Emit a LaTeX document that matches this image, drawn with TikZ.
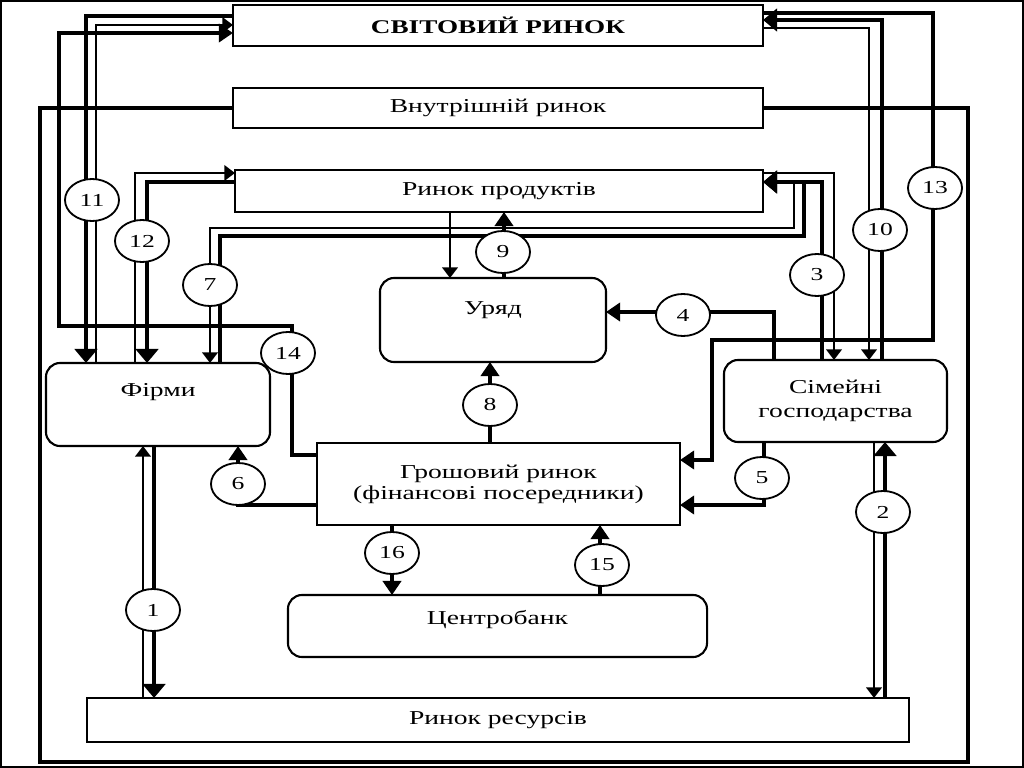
\documentclass[tikz,border=0pt]{standalone}
\usepackage{fontspec}
\setmainfont{Liberation Serif}[FakeStretch=1.4]
\usetikzlibrary{positioning,shapes.geometric,arrows.meta}
\tikzset{
    market/.style={
        rectangle,
        draw=black,
        line width=1.5pt,
        inner sep=0pt,
        outer sep=0pt,
        align=center
    },
    agent/.style={
        rectangle,
        rounded corners=10pt,
        draw=black,
        line width=1.5pt,
        inner sep=0pt,
        outer sep=0pt,
        align=center
    },
    num/.style={
        ellipse,
        draw=black,
        fill=white,
        line width=1.3pt,
        minimum width=1.35cm,
        minimum height=1.05cm,
        inner sep=0pt,
        font=\fontsize{13}{15}\selectfont
    },
    money/.style={line width=3pt, -{Triangle[length=10pt,width=16pt]}},
    goods/.style={line width=1.5pt, -{Triangle[length=7.5pt,width=11pt]}},
    flow/.style={line width=2.2pt, -{Triangle[length=10pt,width=13pt]}},
    frame/.style={line width=2.2pt}
}

\begin{document}
\begin{tikzpicture}[x=0.025cm, y=-0.025cm, font=\fontsize{14}{16}\selectfont]
          \useasboundingbox (0,0) rectangle (1024,768);
          \draw [line width=1.2pt] (1,1) rectangle (1023,767);
          % markets and agents
          \node (world) [market, minimum width=13.25cm, minimum height=1.025cm, font=\fontsize{13.8}{16}\selectfont\bfseries] at (498,25.5) {СВІТОВИЙ РИНОК};
          \node (domestic) [market, minimum width=13.25cm, minimum height=1cm] at (498,108) {Внутрішній ринок};
          \node (products) [market, minimum width=13.2cm, minimum height=1.05cm] at (499,191) {Ринок продуктів};
          \node (govt) [agent, minimum width=5.65cm, minimum height=2.1cm, text height=9pt, text depth=17pt] at (493,320) {Уряд};
          \node (firms) [agent, minimum width=5.6cm, minimum height=2.075cm, text height=9pt, text depth=20pt] at (158,404.5) {Фірми};
          \node (house) [agent, minimum width=5.575cm, minimum height=2.05cm, font=\fontsize{14}{17.5}\selectfont] at (835.5,401) {Сімейні\\господарства};
          \node (money) [market, minimum width=9.075cm, minimum height=2.05cm, font=\fontsize{14}{15}\selectfont] at (498.5,484) {Грошовий ринок\\(фінансові посередники)};
          \node (cbank) [agent, minimum width=10.475cm, minimum height=1.55cm, text height=9pt, text depth=11pt] at (497.5,626) {Центробанк};
          \node (resources) [market, minimum width=20.55cm, minimum height=1.1cm] at (498,720) {Ринок ресурсів};
          % domestic market border
          \draw [frame] (domestic.west) -| (40,762) -| (968,108) -- (domestic.east);
          % 11, 14
          \draw [money] (world.west |- 0,16) -| (firms.north -| 86,0);
          \draw [goods] (firms.north -| 96,0) |- (world.west |- 0,25);
          \draw [flow] (money.west |- 0,455) -| (292,326) -| (59,33) -- (world.west |- 0,33);
          % 12, 7
          \draw [goods] (firms.north -| 135,0) |- (products.west |- 0,173);
          \draw [money] (products.west |- 0,182) -| (firms.north -| 147,0);
          \draw [money] (firms.north -| 220,0) |- (804,236) -- (804,182) -- (products.east |- 0,182);
          \draw [goods] (794,182) |- (210,228) -- (firms.north -| 210,0);
          % 9
          \draw [goods] (products.south -| 450,0) -- (govt.north -| 450,0);
          \draw [flow] (govt.north -| 504,0) -- (products.south -| 504,0);
          % 3, 10, 13
          \draw [money] (house.north -| 822,0) |- (products.east |- 0,182);
          \draw [goods] (products.east |- 0,173) -| (house.north -| 834,0);
          \draw [money] (house.north -| 882,0) |- (world.east |- 0,20);
          \draw [goods] (world.east |- 0,28) -| (house.north -| 869,0);
          \draw [flow] (world.east |- 0,13) -| (933,340) -| (712,460) -- (money.east |- 0,460);
          % 4, 5, 6, 8
          \draw [flow] (house.north -| 774,0) |- (govt.east |- 0,312);
          \draw [flow] (house.south -| 764,0) |- (money.east |- 0,505);
          \draw [flow] (money.west |- 0,505) -| (firms.south -| 238,0);
          \draw [flow] (money.north -| 490,0) -- (govt.south -| 490,0);
          % 15, 16
          \draw [flow] (money.south -| 392,0) -- (cbank.north -| 392,0);
          \draw [flow] (cbank.north -| 600,0) -- (money.south -| 600,0);
          % 1, 2
          \draw [money] (firms.south -| 154,0) -- (resources.north -| 154,0);
          \draw [goods] (resources.north -| 143,0) -- (firms.south -| 143,0);
          \draw [money] (resources.north -| 885,0) -- (house.south -| 885,0);
          \draw [goods] (house.south -| 874,0) -- (resources.north -| 874,0);
          % numbered flows
          \node (n1) [num] at (153,610) {1};
          \node (n2) [num] at (883,512) {2};
          \node (n3) [num] at (817,275) {3};
          \node (n4) [num] at (683,315) {4};
          \node (n5) [num] at (762,478) {5};
          \node (n6) [num] at (238,484) {6};
          \node (n7) [num] at (210,285) {7};
          \node (n8) [num] at (490,405) {8};
          \node (n9) [num] at (503,252) {9};
          \node (n10) [num] at (880,230) {10};
          \node (n11) [num] at (92,200) {11};
          \node (n12) [num] at (142,241) {12};
          \node (n13) [num] at (935,188) {13};
          \node (n14) [num] at (288,353) {14};
          \node (n15) [num] at (602,565) {15};
          \node (n16) [num] at (392,553) {16};
        \end{tikzpicture}
\end{document}
